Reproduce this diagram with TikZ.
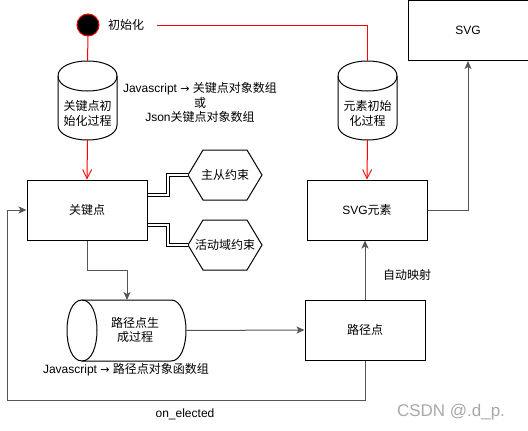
\documentclass[tikz,border=0pt]{standalone}
\usepackage{fontspec}
\setmainfont{Liberation Sans}
\newfontfamily\cjk{Noto Sans CJK SC}
\newfontfamily\djv{DejaVu Sans}
\usetikzlibrary{arrows.meta,calc}
\definecolor{edgegray}{HTML}{555555}
\definecolor{wmgray}{HTML}{A8A8A8}
\newcommand\rarr{{\djv\fontsize{11}{12}\selectfont →}}
\tikzset{
  box/.style={draw=black, line width=1pt, fill=white, minimum width=120pt, minimum height=60pt, inner sep=0pt, font=\fontsize{12}{14}\selectfont},
  txt/.style={inner sep=0pt, align=center, font=\fontsize{12}{14.5}\selectfont},
  redline/.style={draw=red, line width=1pt},
  redarrow/.style={redline, -{Straight Barb[length=9pt,width=9pt,line width=0.9pt]}},
  grayarrow/.style={draw=edgegray, line width=1pt, -{Stealth[length=8pt,width=7pt,inset=2pt]}},
  linkline/.style={draw=black, line width=1pt, double=white, double distance=2.6pt},
  shapeline/.style={draw=black, line width=1pt, fill=white},
}
\begin{document}
\begin{tikzpicture}[x=1pt,y=-1pt]
\useasboundingbox (0,0) rectangle (528,431);

% start state
\node[circle, draw=red, fill=black, line width=1pt, minimum size=22pt, inner sep=0pt] (start) at (88,25) {};
\node[txt, anchor=west] (startlbl) at (108,25) {\cjk 初始化};
\coordinate (startout) at (157,25);

% vertical cylinders
\def\cylv#1#2#3#4{% x0 y0 w h
  \draw[shapeline] (#1,#2+15) .. controls (#1,#2-5) and (#1+#3,#2-5) .. (#1+#3,#2+15)
    -- (#1+#3,#2+#4-15) .. controls (#1+#3,#2+#4+5) and (#1,#2+#4+5) .. (#1,#2+#4-15) -- cycle;
  \draw[line width=1pt] (#1,#2+15) .. controls (#1,#2+35) and (#1+#3,#2+35) .. (#1+#3,#2+15);
}
\cylv{58}{61}{59}{79}
\node[inner sep=0pt, minimum width=59pt, minimum height=79pt] (kpinit) at (87.5,100.5) {};
\node[txt] (kpinittxt) at (87.5,113.5) {\cjk 关键点初\\\cjk 始化过程};

\cylv{338}{61}{59}{79}
\node[inner sep=0pt, minimum width=59pt, minimum height=79pt] (elinit) at (367.5,100.5) {};
\node[txt] (elinittxt) at (367.5,113.5) {\cjk 元素初始\\\cjk 化过程};

\node[txt] (jsnote) at (200,102.5) {Javascript \rarr\ {\cjk 关键点对象数组}\\{\cjk 或}\\Json{\cjk 关键点对象数组}};

% boxes
\node[box] (svg) at (468,30.5) {SVG};
\node[box] (kp) at (87,210) {\cjk 关键点};
\node[box] (svge) at (367,210) {SVG{\cjk 元素}};
\node[box] (lj) at (365,330) {\cjk 路径点};

% hexagons
\draw[shapeline] (188,175) -- (203,150) -- (247,150) -- (262,175) -- (247,200) -- (203,200) -- cycle;
\node[txt] (hex1) at (225,175) {\cjk 主从约束};
\draw[shapeline] (188,245) -- (203,220) -- (247,220) -- (262,245) -- (247,270) -- (203,270) -- cycle;
\node[txt] (hex2) at (225,245) {\cjk 活动域约束};
\coordinate (hex1w) at (188,175);
\coordinate (hex2w) at (188,245);

% horizontal cylinder
\draw[shapeline] (82,300) .. controls (62,300) and (62,361) .. (82,361)
  -- (171,361) .. controls (191,361) and (191,300) .. (171,300) -- cycle;
\draw[line width=1pt] (82,300) .. controls (102,300) and (102,361) .. (82,361);
\node[inner sep=0pt, minimum width=118pt, minimum height=61pt] (ljgen) at (126,330.5) {};
\node[txt] (ljgentxt) at (135,330) {\cjk 路径点生\\\cjk 成过程};
\node[txt] (jsnote2) at (126,370) {Javascript \rarr\ {\cjk 路径点对象函数组}};

% connectors
\draw[redline] (start.south) -- (kpinit.north);
\draw[redarrow] (kpinit.south) -- (kp.north);
\draw[redline] (startout) -| (elinit.north);
\draw[redarrow] (elinit.south) -- (svge.north);

\draw[grayarrow] (svge.east) -| (svg.south);
\draw[linkline] ($(kp.east)+(0,-15)$) -- (168,195) |- (hex1w);
\draw[linkline] ($(kp.east)+(0,15)$) -- (168,225) |- (hex2w);

\draw[grayarrow] (kp.south) -- (87,270) -| (127,300);
\draw[grayarrow] (ljgen.east) -- (lj.west);
\draw[grayarrow] (lj.north) -- (lj.north |- svge.south);
\node[txt] (automap) at (407,275) {\cjk 自动映射};

\coordinate (loopA) at (365,400);
\coordinate (loopB) at (7,400);
\draw[grayarrow] (lj.south) -- (loopA) -- (loopB) |- (kp.west);
\node[txt] (onel) at (185,414) {on\_elected};

\node[txt, text=wmgray, font=\fontsize{17}{19}\selectfont] (wm) at (451,412) {CSDN @.d\_p.};
\end{tikzpicture}
\end{document}
